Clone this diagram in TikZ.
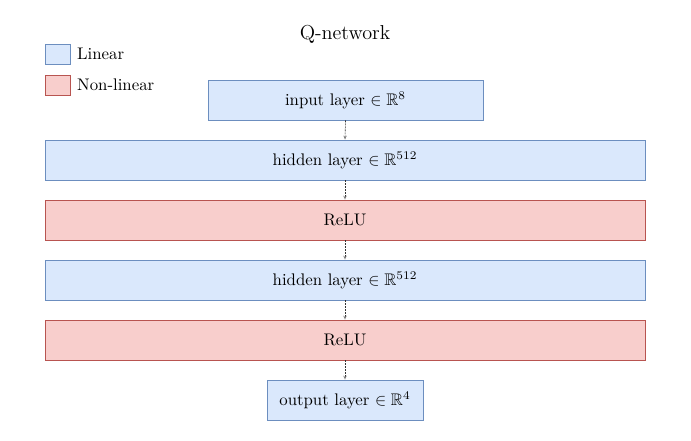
\documentclass[tikz,border=0pt]{standalone}
\usepackage{amssymb}
\usepackage{graphicx}
\usetikzlibrary{arrows.meta}
\definecolor{linfill}{HTML}{DAE8FC}
\definecolor{linline}{HTML}{6C8EBF}
\definecolor{nlfill}{HTML}{F8CECC}
\definecolor{nlline}{HTML}{B85450}
\newcommand{\bigtxt}[1]{\scalebox{1.68}{#1}}
\begin{document}
\begin{tikzpicture}[x=1pt,y=-1pt,
  lin/.style={draw=linline,fill=linfill,line width=0.8pt,minimum height=40pt,inner sep=0pt},
  nonlin/.style={draw=nlline,fill=nlfill,line width=0.8pt,minimum height=40pt,inner sep=0pt},
  legbox/.style={minimum width=25pt,minimum height=20pt,inner sep=0pt,line width=0.8pt},
  conn/.style={draw=black!80,dashed,dash pattern=on 2pt off 1pt,line width=0.6pt,-{Stealth[length=4pt,width=3.5pt,open,black!50]}}]
\useasboundingbox (0,0) rectangle (691,441);
\node (title) at (345,34) {\bigtxt{\large Q-network}};
\node[legbox,draw=linline,fill=linfill] (leglin) at (57.5,54) {};
\node[legbox,draw=nlline,fill=nlfill] (legnl) at (57.5,85) {};
\node[anchor=west,inner sep=0pt] (leglintxt) at (77,54) {\bigtxt{Linear}};
\node[anchor=west,inner sep=0pt] (legnltxt) at (77,85) {\bigtxt{Non-linear}};
\node[lin,minimum width=275pt] (in) at (345.5,100) {\bigtxt{input layer $\in\mathbb{R}^{8}$}};
\node[lin,minimum width=600pt] (h1) at (345,160) {\bigtxt{hidden layer $\in\mathbb{R}^{512}$}};
\node[nonlin,minimum width=600pt] (r1) at (345,220) {\bigtxt{ReLU}};
\node[lin,minimum width=600pt] (h2) at (345,280) {\bigtxt{hidden layer $\in\mathbb{R}^{512}$}};
\node[nonlin,minimum width=600pt] (r2) at (345,340) {\bigtxt{ReLU}};
\node[lin,minimum width=156pt] (out) at (345,400) {\bigtxt{output layer $\in\mathbb{R}^{4}$}};
\draw[conn] (in.south) -- (h1.north);
\draw[conn] (h1.south) -- (r1.north);
\draw[conn] (r1.south) -- (h2.north);
\draw[conn] (h2.south) -- (r2.north);
\draw[conn] (r2.south) -- (out.north);
\end{tikzpicture}
\end{document}
